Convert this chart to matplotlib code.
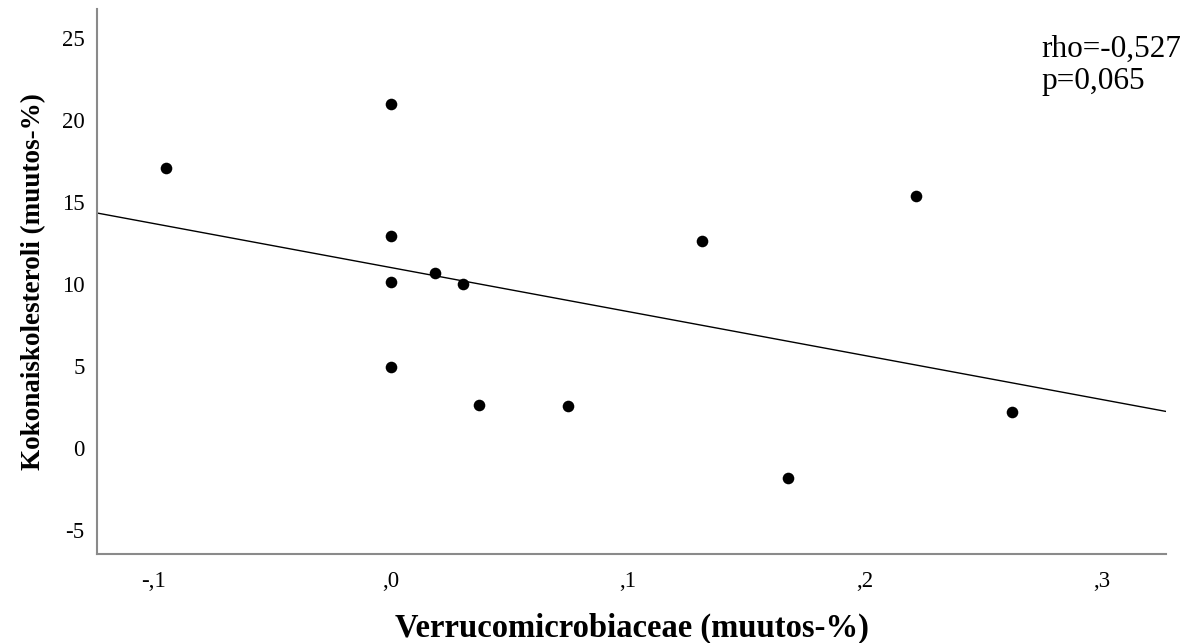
import numpy as np
import matplotlib
matplotlib.use("Agg")
import matplotlib.pyplot as plt
from matplotlib.ticker import FixedLocator, FixedFormatter

# Data
verruco = [-0.0948, 0.0, 0.0, 0.0, 0.0, 0.0187, 0.0306, 0.0373, 0.0749,
           0.1312, 0.2216, 0.1678, 0.2623]
kolesteroli = [17.09, 20.96, 12.93, 10.14, 4.94, 10.69, 9.98, 2.62, 2.58,
               12.64, 15.37, -1.81, 2.18]
x_ticks = [-0.1, 0.0, 0.1, 0.2, 0.3]
x_tick_labels = ["-,1", ",0", ",1", ",2", ",3"]
y_ticks = [-5, 0, 5, 10, 15, 20, 25]
y_tick_labels = ["-5", "0", "5", "10", "15", "20", "25"]
stats_text = "rho=-0,527\np=0,065"

plt.rcParams['font.family'] = ['Liberation Serif', 'DejaVu Serif']

fig = plt.figure(figsize=(11.93, 6.43), dpi=100)
ax = fig.add_axes([0.0813, 0.1384, 0.9774 - 0.0813, 0.986 - 0.1384])

xlim = (-0.1239, 0.3271)
ylim = (-6.46, 26.77)

ax.scatter(verruco, kolesteroli, s=70, color='black', zorder=3, linewidths=0)

slope, intercept = np.polyfit(verruco, kolesteroli, 1)
xl = np.array(xlim)
ax.plot(xl, slope * xl + intercept, color='black', linewidth=1.0, zorder=2)

ax.set_xlim(*xlim)
ax.set_ylim(*ylim)

ax.xaxis.set_major_locator(FixedLocator(x_ticks))
ax.xaxis.set_major_formatter(FixedFormatter(x_tick_labels))
ax.yaxis.set_major_locator(FixedLocator(y_ticks))
ax.yaxis.set_major_formatter(FixedFormatter(y_tick_labels))
ax.tick_params(axis='both', length=0, labelsize=16.5, colors='black')
ax.tick_params(axis='x', pad=12)
ax.tick_params(axis='y', pad=9)

for side in ['top', 'right']:
    ax.spines[side].set_visible(False)
for side in ['left', 'bottom']:
    ax.spines[side].set_color('#8a8a8a')
    ax.spines[side].set_linewidth(1.5)

ax.set_xlabel("Verrucomicrobiaceae (muutos-%)", fontsize=23.5, fontweight='bold')
ax.set_ylabel("Kokonaiskolesteroli (muutos-%)", fontsize=19.5, fontweight='bold')
ax.xaxis.set_label_coords(0.5, -0.108)
ax.yaxis.set_label_coords(-0.048, 0.5)

ax.text(0.883, 0.952, stats_text, transform=ax.transAxes, fontsize=22.5,
        ha='left', va='top', linespacing=1.12)

fig.savefig("out.png", dpi=100, facecolor='white')
